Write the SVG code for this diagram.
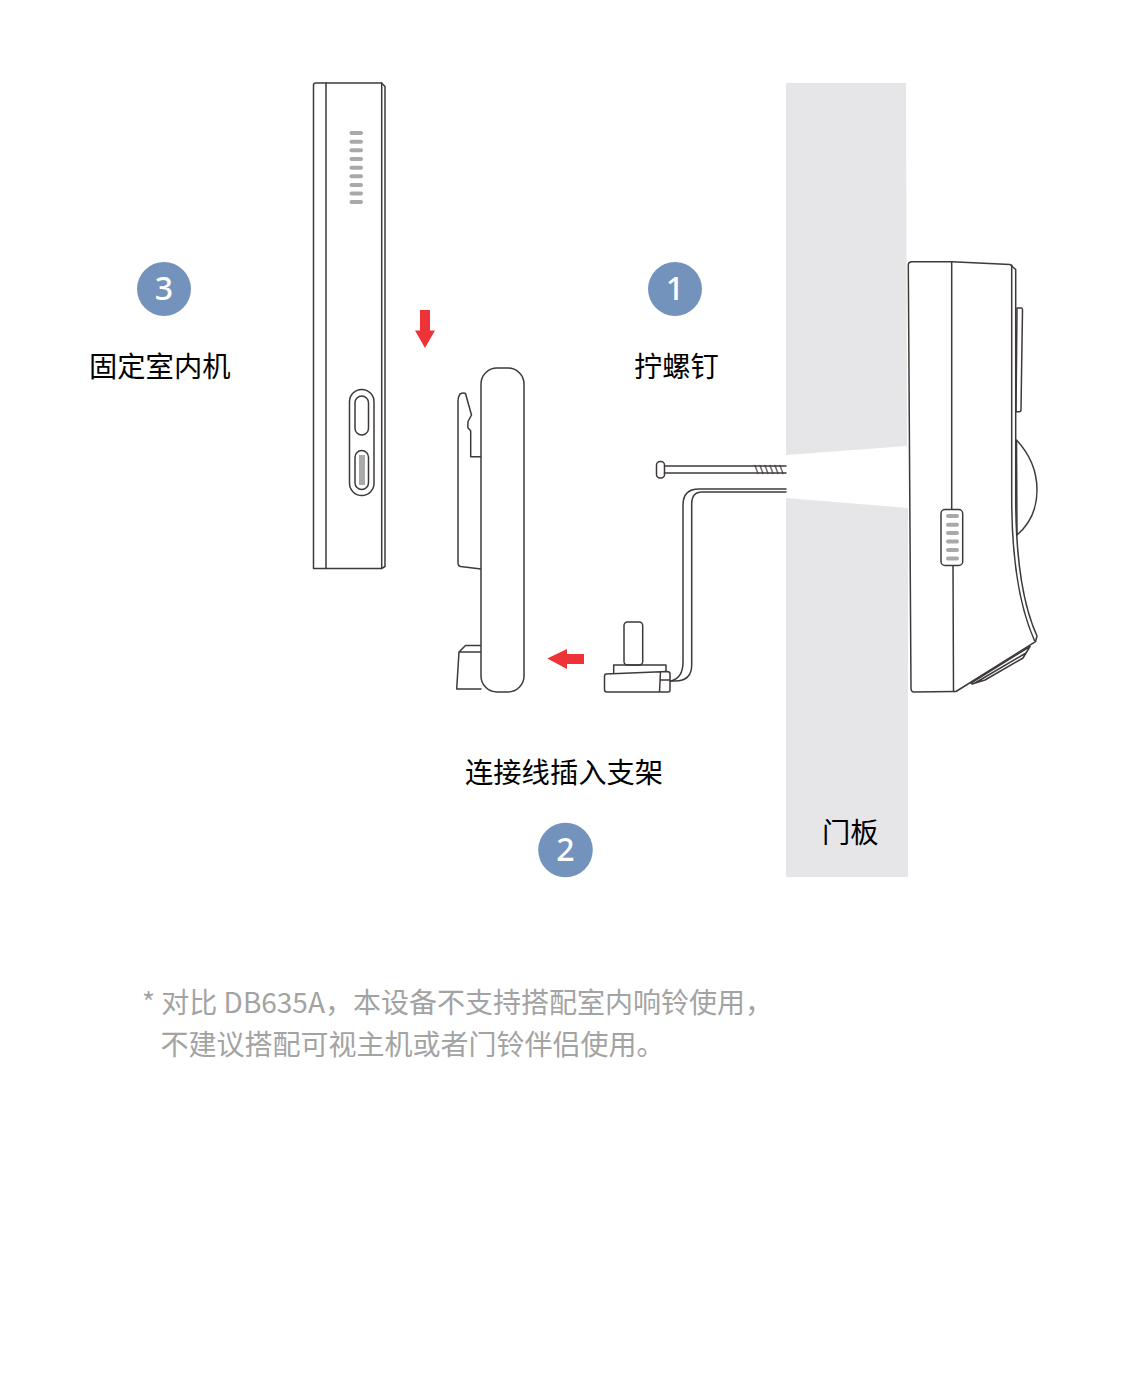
<svg xmlns="http://www.w3.org/2000/svg" width="1125" height="1397" viewBox="0 0 1125 1397">
<style>
text{font-family:"Noto Sans CJK SC","Noto Sans",sans-serif}
.l{fill:none;stroke:#3e3a39;stroke-width:1.5;stroke-linejoin:round;stroke-linecap:round}
.w{fill:#fff;stroke:#3e3a39;stroke-width:1.5;stroke-linejoin:round}
.g{fill:#a9a9a9}
.r{fill:#ee3338}
.c{fill:#7393bd}
.n{fill:#fff;font-size:32px;text-anchor:middle;font-family:"Noto Sans",sans-serif;font-weight:500}
.t{fill:#000;font-size:28.300px;font-weight:400}
.s{fill:#a3a3a3;font-size:28px;font-weight:400}
</style>
<rect width="1125" height="1397" fill="#fff"/>
<g id="door">
<path d="M786 83H906L907 446L786 455Z" fill="#e6e6e8"/>
<path d="M786 498L908 508V877H786Z" fill="#e6e6e8"/>
<text class="t" x="822" y="843">门板</text>
</g>
<g id="monitor">
<path class="l" d="M313.5 85Q313.5 83 316 83H381.5L385 86.500V566.500L381.500 568.500L313.500 568.500Z"/>
<path class="l" d="M326 83V568.500M381.700 83V568.500"/>
<g class="g">
<rect x="349.500" y="131" width="13.500" height="4" rx="2"/>
<rect x="349.500" y="139.700" width="13.500" height="4" rx="2"/>
<rect x="349.500" y="148.300" width="13.500" height="4" rx="2"/>
<rect x="349.500" y="157" width="13.500" height="4" rx="2"/>
<rect x="349.500" y="165.700" width="13.500" height="4" rx="2"/>
<rect x="349.500" y="174.300" width="13.500" height="4" rx="2"/>
<rect x="349.500" y="183" width="13.500" height="4" rx="2"/>
<rect x="349.500" y="191.500" width="13.500" height="4" rx="2"/>
<rect x="349.500" y="200" width="13.500" height="4" rx="2"/>
</g>
<rect class="l" x="349.500" y="389.500" width="24.500" height="106" rx="12.200"/>
<rect class="l" x="355" y="396" width="13.500" height="39" rx="6.700"/>
<rect class="l" x="355" y="450.500" width="13.500" height="39" rx="6.700"/>
<rect class="g" x="359" y="455" width="6" height="30"/>
</g>
<g id="bracket">
<path class="l" d="M481 456.700H470.700V431L467.800 427.500L468 421.500L471.500 415L465.500 393.500Q463 392.500 460 394Q458 397 458 401V563.500Q458 565.500 460.500 566.500L481 569"/>
<path class="l" d="M481 689H456.700L459 652L465.500 645.500H481M459 652H481"/>
<rect class="w" x="481" y="368" width="43" height="324" rx="16"/>
</g>
<g id="screw">
<rect class="l" x="656.500" y="461.500" width="8" height="16.500" rx="3.500"/>
<path class="l" d="M664.500 466H786M664.500 473H786"/>
<path class="l" stroke-opacity=".75" d="M755 465.500L758 473.500M760 465.500L763 473.500M765 465.500L768 473.500M770 465.500L773 473.500M775 465.500L778 473.500M780 465.500L783 473.500"/>
</g>
<g id="plug">
<rect class="l" x="624" y="622" width="18.700" height="43" rx="3.500"/>
<path class="l" d="M613.700 673V665H666V671"/>
<path class="l" d="M606 674L667 671.500Q670 671.500 670 674V690Q670 692 668 692H607Q604.500 692 604.500 689.500V676.500Q604.500 674.200 606 674ZM660.500 672L659.500 692M660 680H670"/>
<path class="l" d="M786 489H699Q683 489 683 505V662Q683 678 671 681"/>
<path class="l" d="M786 492H702Q691.700 492 691.700 504V665Q691.700 681 675 681H670"/>
</g>
<g id="doorbell">
<path class="w" d="M1017 308H1021.500Q1022.500 308 1022.500 310L1021 410Q1021 411.700 1019 411.700H1016Z"/>
<path class="w" d="M1016.500 440Q1037 462 1037 490Q1037 518 1017 535Z"/>
<path class="w" d="M908.300 265Q908.300 261.700 912 261.700H952L1010 264.500L1015.700 269.500V500Q1016 590 1037 636L1035.500 641.700L956 691.500L953 691.500L914 692Q911 692 911 688Z"/>
<path class="l" d="M951.700 262V509.300M953 565.700L953.500 691.500M1011.700 265V500Q1012 590 1034.500 640.500"/>
<path class="l" d="M971 683L1030 646.500M975 683L1026 653M1030 646.500L1023 658L985 680L972 684"/>
<rect class="w" x="941" y="509.500" width="21.700" height="56" rx="4"/>
<g class="g">
<rect x="946" y="514" width="13" height="4" rx="2"/>
<rect x="946" y="522.700" width="13" height="4" rx="2"/>
<rect x="946" y="531" width="13" height="4" rx="2"/>
<rect x="946" y="539.500" width="13" height="4" rx="2"/>
<rect x="946" y="548" width="13" height="4" rx="2"/>
<rect x="946" y="556.500" width="13" height="4" rx="2"/>
</g>
</g>
<g id="arrows">
<path class="r" d="M420 310H430V330.500H435L425 348L415 330.500H420Z"/>
<path class="r" d="M547.300 658.500L567 649V654H584V664H567V669Z"/>
</g>
<g id="step1"><circle class="c" cx="675" cy="289" r="27"/><text class="n" x="675" y="300">1</text><text class="t" x="634" y="377">拧螺钉</text></g>
<g id="step2"><circle class="c" cx="565.500" cy="850" r="27.300"/><text class="n" x="565.500" y="861">2</text><text class="t" x="465" y="783">连接线插入支架</text></g>
<g id="step3"><circle class="c" cx="164" cy="289" r="27"/><text class="n" x="164" y="300">3</text><text class="t" x="89" y="377">固定室内机</text></g>
<g id="note">
<text class="s" x="142" y="1013">* 对比 DB635A，本设备不支持搭配室内响铃使用，</text>
<text class="s" x="160.500" y="1055">不建议搭配可视主机或者门铃伴侣使用。</text>
</g>
</svg>
